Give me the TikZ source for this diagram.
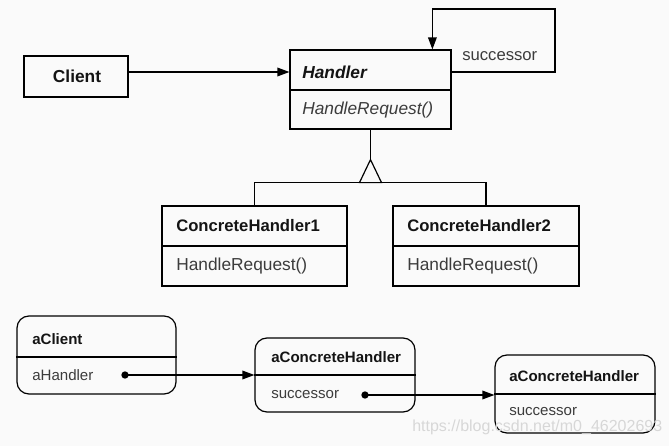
\documentclass[tikz,border=0pt]{standalone}
\usepackage{fontspec}
\setmainfont{Liberation Sans}
\usetikzlibrary{arrows.meta,fit,calc}
\definecolor{bgc}{RGB}{250,250,250}
\definecolor{txt}{RGB}{20,20,20}
\definecolor{mtxt}{RGB}{60,60,60}
\definecolor{wm}{RGB}{215,215,215}
\tikzset{
  box/.style={draw=black, line width=0.9pt, inner sep=0pt},
  rbox/.style={box, rounded corners=9pt},
  nm/.style={anchor=west, inner sep=0pt, text=txt, font=\fontsize{12.5}{14}\selectfont\bfseries},
  mt/.style={anchor=west, inner sep=0pt, text=mtxt, font=\fontsize{13}{15}\selectfont},
  snm/.style={anchor=west, inner sep=0pt, text=txt, font=\fontsize{11.3}{13}\selectfont\bfseries},
  smt/.style={anchor=west, inner sep=0pt, text=mtxt, font=\fontsize{11.3}{13}\selectfont},
  ln/.style={line width=0.9pt},
  arr/.style={ln, -{Triangle[length=9pt,width=6.5pt]}},
  dotc/.style={circle, fill=black, inner sep=0pt, minimum size=5.5pt},
}
\begin{document}
\begin{tikzpicture}[x=0.75pt,y=-0.75pt]
\fill[bgc] (0,0) rectangle (669,446);
\useasboundingbox (0,0) rectangle (669,446);

% Class diagram
\node[box, fit={(24,56) (128,97)}] (client) {};
\node[inner sep=0pt, text=txt, font=\fontsize{13}{15}\selectfont\bfseries] (clientt) at (77,76.5) {Client};

\node[box, fit={(290,50) (451,129)}] (handler) {};
\draw[ln] (handler.west |- 0,90) -- (handler.east |- 0,90);
\node[nm, font=\fontsize{13}{15}\selectfont\bfseries\itshape] (hname) at (302,72) {Handler};
\node[mt, font=\fontsize{13}{15}\selectfont\itshape] (hmeth) at (302,110) {HandleRequest()};

\draw[arr] (client.east |- hname) -- (handler.west |- hname);

\coordinate (loopc) at (555,9);
\draw[arr] (handler.east |- hname) -| (loopc) -| ($(handler.north west)+(143,0)$);
\node[anchor=west, inner sep=0pt, text=mtxt, font=\fontsize{12.5}{14}\selectfont] (succ) at (462,56) {successor};

\node[box, fit={(162,206) (347,286)}] (ch1) {};
\draw[ln] (ch1.west |- 0,246) -- (ch1.east |- 0,246);
\node[nm] (ch1n) at (176,226) {ConcreteHandler1};
\node[mt] (ch1m) at (176,266) {HandleRequest()};

\node[box, fit={(393,206) (579,286)}] (ch2) {};
\draw[ln] (ch2.west |- 0,246) -- (ch2.east |- 0,246);
\node[nm] (ch2n) at (407,226) {ConcreteHandler2};
\node[mt] (ch2m) at (407,266) {HandleRequest()};

\coordinate (apex) at ($(handler.south)+(0,30)$);
\coordinate (tb) at ($(handler.south)+(0,53)$);
\draw[ln] (handler.south) -- (apex);
\draw[ln, line join=miter] (apex) -- ($(tb)+(-11,0)$) -- ($(tb)+(11,0)$) -- cycle;
\draw[ln] (ch1.north) |- (tb);
\draw[ln] (ch2.north) |- (tb);

% Object diagram
\node[rbox, fit={(17,316) (176,394)}] (acl) {};
\draw[ln] (acl.west |- 0,357) -- (acl.east |- 0,357);
\node[snm] (acln) at (32,339) {aClient};
\node[smt] (aclh) at (32,375) {aHandler};
\node[dotc] (d1) at (125,375) {};

\node[rbox, fit={(255,338) (415,412)}] (ach1) {};
\draw[ln] (ach1.west |- 0,375) -- (ach1.east |- 0,375);
\node[snm] (ach1n) at (271,357) {aConcreteHandler};
\node[smt] (ach1s) at (271,395) {successor};
\node[dotc] (d2) at (365,395) {};

\node[rbox, fit={(495,355) (655,433)}] (ach2) {};
\draw[ln] (ach2.west |- 0,394) -- (ach2.east |- 0,394);
\node[snm] (ach2n) at (509,376) {aConcreteHandler};
\node[smt] (ach2s) at (509,412) {successor};

\draw[arr] (d1.center) -- (ach1.west |- d1);
\draw[arr] (d2.center) -- (ach2.west |- d2);

% watermark
\node[anchor=west, inner sep=0pt, text=wm, font=\fontsize{12}{14}\selectfont] (wmk) at (412,427) {https://blog.csdn.net/m0\_46202693};
\end{tikzpicture}
\end{document}
